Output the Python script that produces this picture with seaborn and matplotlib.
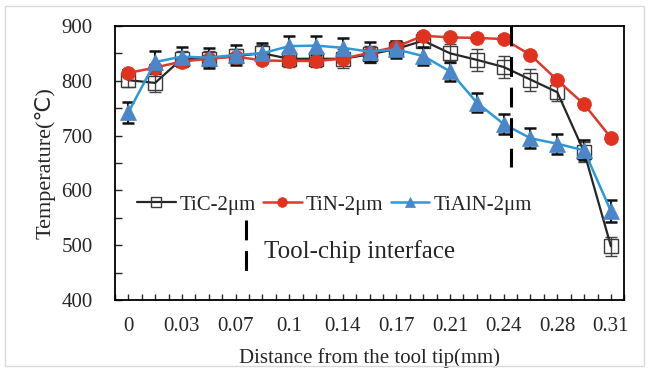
import numpy as np
import pandas as pd
import seaborn as sns
import matplotlib.pyplot as plt
from matplotlib.ticker import MultipleLocator, FixedLocator
from matplotlib.patches import Rectangle

tick_labels = ['0', '0.03', '0.07', '0.1', '0.14', '0.17', '0.21', '0.24', '0.28', '0.31']
tic = [801, 796, 840, 840, 845, 850, 840, 840, 840, 848, 858, 873, 850, 838, 825, 802, 779, 670, 498]
tic_err = [13, 17, 15, 14, 13, 15, 15, 15, 17, 15, 15, 12, 17, 20, 20, 20, 16, 18, 17]
tin = [814, 824, 835, 840, 844, 837, 836, 836, 840, 851, 862, 882, 879, 878, 876, 847, 801, 757, 696]
tin_err = [5, 5, 5, 5, 5, 5, 5, 5, 5, 5, 5, 5, 5, 5, 5, 5, 5, 5, 5]
tialn = [742, 834, 844, 842, 847, 850, 863, 864, 860, 853, 857, 845, 817, 760, 721, 695, 685, 673, 562]
tialn_err = [20, 20, 18, 18, 18, 18, 18, 18, 18, 18, 15, 17, 17, 18, 18, 18, 18, 18, 20]

pos = np.arange(len(tic))
df = pd.DataFrame({'pos': pos, 'TiC': tic, 'TiN': tin, 'TiAlN': tialn})

sns.set_style('white')
plt.rcParams['font.family'] = ['Liberation Serif', 'DejaVu Sans']

fig = plt.figure(figsize=(6.49, 3.75), dpi=100)
ax = fig.add_axes([0.177, 0.2, 0.785, 0.731])

# error bars first so markers sit on top
ax.errorbar(pos, tic, yerr=tic_err, fmt='none', ecolor='#444444', elinewidth=1.0,
            capsize=4, capthick=1.0, zorder=2)
ax.errorbar(pos, tin, yerr=tin_err, fmt='none', ecolor='#222222', elinewidth=1.2,
            capsize=4, capthick=1.2, zorder=3)
ax.errorbar(pos, tialn, yerr=tialn_err, fmt='none', ecolor='#111111', elinewidth=1.5,
            capsize=4, capthick=1.8, zorder=4)

sns.lineplot(data=df, x='pos', y='TiC', ax=ax, color='#262626', linewidth=1.6,
             marker='s', markersize=10, markerfacecolor='none',
             markeredgecolor='#3a3a3a', markeredgewidth=1.0, label='TiC-2μm', zorder=3)
sns.lineplot(data=df, x='pos', y='TiN', ax=ax, color='#e0382a', linewidth=1.8,
             marker='o', markersize=10, markerfacecolor='#e0321f',
             markeredgecolor='#e0321f', markeredgewidth=0.5, label='TiN-2μm', zorder=4)
sns.lineplot(data=df, x='pos', y='TiAlN', ax=ax, color='#2a9ad8', linewidth=1.8,
             marker='^', markersize=11, markerfacecolor='#4a86c8',
             markeredgecolor='#4a86c8', markeredgewidth=0.5, label='TiAlN-2μm', zorder=5)

# tool-chip interface marker
ax.plot([14.27, 14.27], [900, 643], color='black', linewidth=2.2,
        linestyle=(0, (6.5, 3.5)), zorder=6)
ax.plot([4.39, 4.39], [546, 451], color='black', linewidth=2.2,
        linestyle=(0, (6.5, 3.5)), zorder=6)
ax.text(5.05, 488, 'Tool-chip interface', fontsize=18, va='center', ha='left')

ax.set_xlim(-0.5, 18.5)
ax.set_ylim(400, 900)
ax.xaxis.set_major_locator(FixedLocator(pos[::2]))
ax.set_xticklabels(tick_labels)
ax.xaxis.set_minor_locator(MultipleLocator(0.5))
ax.yaxis.set_major_locator(MultipleLocator(100))
ax.yaxis.set_minor_locator(MultipleLocator(50))
ax.tick_params(axis='x', which='both', direction='in', length=4, width=1, pad=12,
               labelsize=15, bottom=True)
ax.tick_params(axis='y', which='both', direction='in', length=5, width=1, pad=16,
               labelsize=15, left=True)
for s in ax.spines.values():
    s.set_linewidth(1.3)
    s.set_color('black')

ax.set_xlabel('Distance from the tool tip(mm)', fontsize=15, labelpad=9)
ax.set_ylabel('Temperature(℃)', fontsize=16, labelpad=4)

ax.legend(loc='center left', bbox_to_anchor=(0.027, 0.347), ncol=3, frameon=False,
          fontsize=15, handlelength=1.85, handletextpad=0.2, columnspacing=0.35,
          borderaxespad=0.0, markerscale=0.7)

fig.patches.append(Rectangle((0.008, 0.025), 0.985, 0.96, transform=fig.transFigure,
                             fill=False, edgecolor='#d9d9d9', linewidth=1))

fig.savefig('out.png', dpi=100)
